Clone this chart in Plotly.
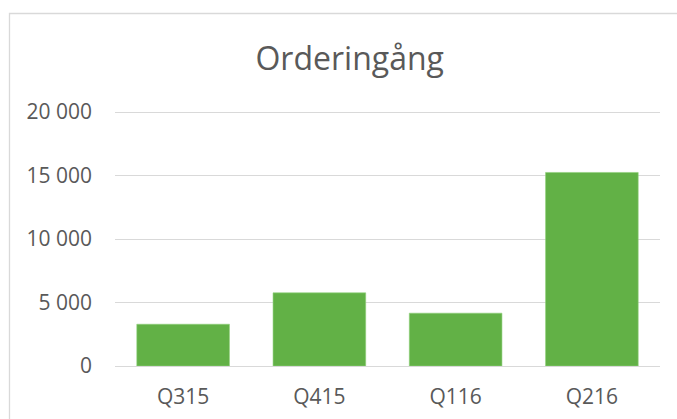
import plotly.graph_objects as go

categories = ["Q315", "Q415", "Q116", "Q216"]
orders = [3290, 5760, 4160, 15240]
tick_vals = [0, 5000, 10000, 15000, 20000]
tick_text = ["0", "5 000", "10 000", "15 000", "20 000"]

W, H = 677, 419
L, R, T, B = 115, 17, 110, 53
y_top = 20000 * 256 / 254  # keeps 20 000 grid line 2px inside the plot area

fig = go.Figure(go.Bar(
    x=categories, y=orders,
    marker=dict(color="#62B146", line=dict(color="#8fd07a", width=0.6)),
))

fig.update_layout(
    width=W, height=H,
    margin=dict(l=L, r=R, t=T, b=B, pad=0),
    paper_bgcolor="white", plot_bgcolor="white",
    bargap=0.32,
    showlegend=False,
    font=dict(family="Open Sans", color="#595959", size=21),
    title=dict(text="Orderingång", x=349.7 / W, xref="container", xanchor="center",
               y=1 - 59 / H, yref="container", yanchor="middle",
               font=dict(family="Open Sans", size=32, color="#595959")),
)
fig.update_yaxes(range=[0, y_top], tickvals=tick_vals, ticktext=tick_text,
                 showgrid=True, gridcolor="#d9d9d9", gridwidth=1.3,
                 zeroline=False, showline=False, ticks="", automargin=False,
                 ticklabelstandoff=22, fixedrange=True)
fig.update_xaxes(showline=True, linecolor="#d9d9d9", linewidth=1.3, ticks="",
                 automargin=False, ticklabelstandoff=12, fixedrange=True)

pw = W - L - R
ph = H - T - B
fig.add_shape(type="rect", xref="paper", yref="paper",
              x0=(9.5 - L) / pw, x1=(W + 10 - L) / pw,
              y0=(H - B - (H + 10)) / ph, y1=(H - B - 13.5) / ph,
              line=dict(color="#d9d9d9", width=1.3), fillcolor="rgba(0,0,0,0)", layer="below")

fig.write_html("out.html", config={"displayModeBar": False},
               post_script="document.body.style.margin='0px';")
